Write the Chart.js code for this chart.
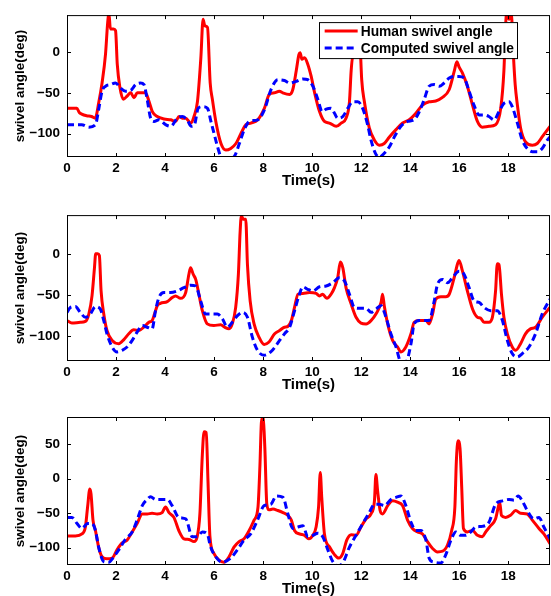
<!DOCTYPE html>
<html>
<head>
<meta charset="utf-8">
<script src="https://cdn.jsdelivr.net/npm/chart.js@4.4.1/dist/chart.umd.min.js"></script>
<style>
  html, body { margin: 0; padding: 0; background: #fff; overflow: hidden; }
  #wrap { position: relative; width: 551px; height: 596px; }
  canvas { position: absolute; left: 0; }
</style>
</head>
<body>
<div id="wrap">
  <canvas id="c1" width="551" height="200" style="top:0px"></canvas>
  <canvas id="c2" width="551" height="200" style="top:200px"></canvas>
  <canvas id="c3" width="551" height="204" style="top:396px"></canvas>
</div>
<script>
// series labels and tick values
const seriesNames = ["Human swivel angle", "Computed swivel angle"];
const xTicks = [0, 2, 4, 6, 8, 10, 12, 14, 16, 18];
const yTicksTop = [-100, -50, 0];
const yTicksBottom = [-100, -50, 0, 50];

// [time (s), swivel angle (deg)]
const human1 = [[0,-69],[0.4,-69],[0.5,-74],[0.6,-76],[0.8,-78],[1.0,-79],[1.15,-81],[1.3,-61],[1.43,-38],[1.57,-3],[1.66,36],[1.71,47],[1.77,28],[1.9,28],[1.98,26],[2.05,-15],[2.15,-42],[2.3,-58],[2.45,-54],[2.6,-50],[2.73,-56],[2.87,-50],[3.0,-50],[3.2,-50],[3.35,-61],[3.48,-73],[3.68,-79],[3.96,-82],[4.23,-83],[4.43,-85],[4.57,-79],[4.7,-81],[4.84,-81],[5.05,-87],[5.18,-79],[5.32,-61],[5.46,-7],[5.55,40],[5.62,32],[5.73,30],[5.84,-38],[5.93,-58],[6.07,-85],[6.28,-112],[6.48,-120],[6.68,-118],[6.89,-112],[7.09,-100],[7.3,-89],[7.5,-87],[7.78,-83],[8.05,-69],[8.25,-52],[8.46,-50],[8.66,-48],[8.8,-50],[9.08,-52],[9.21,-46],[9.35,-23],[9.46,-3],[9.51,-1],[9.58,-9],[9.69,-7],[9.82,-15],[9.96,-30],[10.1,-50],[10.3,-73],[10.5,-85],[10.7,-87],[10.98,-91],[11.18,-87],[11.38,-81],[11.52,-61],[11.59,-23],[11.65,-7],[11.76,-5],[11.86,24],[11.92,32],[11.97,0],[12.02,-34],[12.13,-61],[12.33,-93],[12.54,-108],[12.74,-114],[12.94,-112],[13.15,-104],[13.42,-95],[13.69,-87],[13.96,-83],[14.23,-75],[14.5,-65],[14.77,-61],[15.04,-60],[15.3,-56],[15.59,-46],[15.8,-23],[15.9,-12],[16.0,-19],[16.13,-26],[16.33,-42],[16.54,-65],[16.74,-85],[16.94,-92],[17.21,-91],[17.48,-89],[17.69,-69],[17.82,-23],[17.89,32],[17.93,47],[18.03,40],[18.12,47],[18.2,0],[18.28,-40],[18.37,-65],[18.5,-93],[18.7,-110],[18.98,-114],[19.18,-112],[19.38,-104],[19.7,-91]];
const computed1 = [[0,-89],[0.6,-89],[0.89,-92],[1.16,-89],[1.3,-69],[1.43,-48],[1.57,-42],[1.77,-40],[1.98,-38],[2.18,-44],[2.39,-48],[2.6,-47],[2.8,-40],[3.0,-38],[3.14,-40],[3.27,-58],[3.41,-81],[3.55,-85],[3.75,-83],[4.02,-89],[4.23,-91],[4.5,-81],[4.7,-79],[4.9,-83],[5.07,-91],[5.2,-89],[5.35,-69],[5.53,-67],[5.73,-69],[5.87,-85],[6.0,-100],[6.14,-116],[6.28,-128],[6.55,-131],[6.82,-128],[7.03,-112],[7.23,-95],[7.44,-85],[7.78,-83],[8.05,-71],[8.32,-46],[8.6,-34],[8.87,-35],[9.08,-38],[9.35,-36],[9.62,-33],[9.82,-34],[10.03,-42],[10.23,-58],[10.41,-73],[10.57,-70],[10.77,-69],[10.91,-75],[11.04,-81],[11.25,-79],[11.45,-69],[11.65,-61],[11.86,-61],[12.06,-69],[12.26,-89],[12.4,-108],[12.58,-124],[12.74,-129],[12.94,-124],[13.15,-116],[13.35,-104],[13.62,-91],[13.89,-85],[14.16,-83],[14.37,-73],[14.57,-58],[14.77,-42],[14.98,-40],[15.18,-42],[15.38,-38],[15.59,-32],[15.79,-30],[15.99,-30],[16.2,-32],[16.4,-48],[16.6,-65],[16.81,-77],[17.01,-77],[17.21,-79],[17.42,-83],[17.62,-73],[17.82,-63],[18.03,-61],[18.16,-67],[18.37,-87],[18.57,-108],[18.77,-118],[18.98,-122],[19.18,-122],[19.38,-118],[19.59,-108],[19.7,-104]];

const human2 = [[0,-81],[0.2,-84],[0.54,-83],[0.75,-82],[0.89,-73],[1.02,-51],[1.12,-17],[1.17,0],[1.25,0],[1.32,-2],[1.39,-45],[1.5,-73],[1.63,-93],[1.84,-105],[2.11,-109],[2.32,-104],[2.52,-97],[2.72,-92],[2.93,-93],[3.13,-89],[3.34,-83],[3.47,-81],[3.57,-73],[3.68,-63],[3.81,-60],[4.09,-58],[4.29,-53],[4.43,-51],[4.63,-54],[4.84,-47],[4.97,-25],[5.04,-17],[5.15,-25],[5.25,-31],[5.38,-49],[5.52,-69],[5.72,-85],[5.99,-87],[6.27,-86],[6.43,-89],[6.61,-91],[6.74,-85],[6.88,-65],[6.99,-25],[7.06,26],[7.11,46],[7.19,42],[7.29,42],[7.36,-13],[7.47,-57],[7.63,-85],[7.83,-101],[8.04,-110],[8.24,-107],[8.47,-97],[8.67,-93],[8.87,-89],[9.01,-88],[9.15,-81],[9.28,-65],[9.42,-49],[9.62,-48],[9.89,-47],[10.16,-48],[10.3,-51],[10.43,-49],[10.6,-54],[10.77,-49],[10.91,-41],[11.04,-29],[11.15,-10],[11.25,-17],[11.38,-41],[11.59,-61],[11.79,-77],[11.99,-84],[12.2,-85],[12.4,-81],[12.6,-73],[12.81,-59],[12.87,-49],[12.94,-63],[13.08,-85],[13.28,-105],[13.48,-113],[13.62,-119],[13.82,-113],[14.03,-97],[14.16,-83],[14.37,-81],[14.64,-81],[14.77,-85],[14.91,-73],[15.04,-55],[15.25,-52],[15.45,-52],[15.59,-49],[15.79,-29],[15.93,-12],[15.99,-8],[16.13,-21],[16.33,-45],[16.54,-67],[16.74,-77],[16.87,-78],[17.01,-83],[17.21,-83],[17.35,-77],[17.48,-45],[17.55,-12],[17.62,-13],[17.72,-49],[17.82,-77],[17.96,-97],[18.16,-113],[18.3,-117],[18.5,-109],[18.7,-97],[18.9,-91],[19.11,-89],[19.38,-77],[19.7,-65]];
const computed2 = [[0,-71],[0.14,-65],[0.34,-64],[0.54,-71],[0.75,-77],[0.95,-73],[1.16,-64],[1.36,-67],[1.5,-81],[1.63,-97],[1.84,-113],[2.04,-119],[2.25,-117],[2.45,-113],[2.66,-105],[2.86,-95],[3.07,-87],[3.27,-89],[3.47,-91],[3.61,-69],[3.75,-53],[3.95,-47],[4.22,-47],[4.5,-45],[4.77,-41],[5.04,-38],[5.25,-39],[5.45,-57],[5.65,-73],[5.86,-73],[6.13,-73],[6.34,-79],[6.54,-89],[6.74,-83],[6.95,-75],[7.15,-71],[7.36,-77],[7.56,-101],[7.77,-117],[8.04,-123],[8.31,-119],[8.58,-109],[8.67,-105],[8.87,-97],[9.08,-89],[9.28,-69],[9.48,-49],[9.62,-40],[9.82,-43],[10.03,-45],[10.3,-40],[10.57,-39],[10.84,-35],[11.11,-29],[11.32,-33],[11.52,-49],[11.72,-65],[11.93,-66],[12.2,-66],[12.4,-71],[12.6,-67],[12.81,-63],[13.01,-77],[13.21,-97],[13.42,-113],[13.62,-131],[13.82,-131],[14.03,-109],[14.16,-85],[14.37,-81],[14.57,-81],[14.77,-81],[14.98,-57],[15.11,-37],[15.32,-31],[15.52,-35],[15.72,-29],[15.99,-21],[16.2,-25],[16.4,-41],[16.6,-57],[16.81,-59],[17.01,-65],[17.28,-69],[17.55,-69],[17.76,-81],[17.96,-105],[18.16,-121],[18.37,-125],[18.57,-121],[18.84,-113],[19.11,-97],[19.38,-73],[19.7,-55]];

const human3 = [[0,-83],[0.34,-83],[0.61,-80],[0.75,-70],[0.84,-41],[0.93,-15],[0.98,-22],[1.06,-60],[1.16,-75],[1.29,-99],[1.43,-113],[1.63,-116],[1.84,-115],[2.04,-103],[2.25,-93],[2.45,-89],[2.66,-77],[2.86,-65],[3.07,-51],[3.27,-51],[3.47,-50],[3.68,-51],[3.88,-49],[4.02,-41],[4.16,-49],[4.36,-56],[4.56,-75],[4.77,-87],[4.97,-88],[5.18,-91],[5.31,-84],[5.42,-51],[5.52,35],[5.59,68],[5.68,67],[5.75,-3],[5.83,-84],[5.99,-108],[6.2,-118],[6.4,-121],[6.61,-113],[6.81,-99],[7.02,-91],[7.22,-87],[7.43,-75],[7.63,-60],[7.79,-41],[7.87,20],[7.93,82],[8.0,90],[8.07,44],[8.15,-37],[8.24,-45],[8.4,-44],[8.6,-46],[8.81,-49],[9.01,-53],[9.15,-60],[9.28,-75],[9.48,-80],[9.69,-82],[9.86,-87],[10.03,-82],[10.16,-70],[10.26,-41],[10.33,9],[10.39,-27],[10.5,-80],[10.71,-99],[10.91,-110],[11.08,-115],[11.25,-108],[11.41,-89],[11.59,-81],[11.79,-82],[11.99,-70],[12.2,-58],[12.4,-51],[12.54,-32],[12.6,6],[12.67,-18],[12.77,-46],[12.87,-51],[13.08,-39],[13.28,-32],[13.48,-34],[13.69,-39],[13.89,-60],[14.09,-72],[14.3,-77],[14.5,-80],[14.7,-91],[14.91,-101],[15.11,-106],[15.32,-105],[15.52,-96],[15.69,-75],[15.82,-41],[15.88,25],[15.95,55],[16.03,44],[16.1,-13],[16.17,-72],[16.33,-77],[16.54,-75],[16.74,-82],[16.94,-84],[17.08,-77],[17.28,-68],[17.48,-58],[17.59,-41],[17.65,-34],[17.72,-53],[17.89,-56],[18.09,-53],[18.3,-46],[18.5,-50],[18.77,-51],[18.98,-60],[19.25,-72],[19.45,-80],[19.7,-94]];
const computed3 = [[0,-56],[0.2,-56],[0.41,-65],[0.61,-72],[0.84,-65],[1.02,-65],[1.16,-75],[1.29,-99],[1.5,-120],[1.7,-121],[1.91,-113],[2.11,-103],[2.38,-88],[2.66,-77],[2.86,-60],[3.07,-39],[3.27,-30],[3.41,-26],[3.61,-30],[3.81,-30],[4.09,-30],[4.29,-39],[4.56,-56],[4.84,-58],[5.11,-84],[5.31,-84],[5.52,-77],[5.72,-80],[5.86,-99],[6.06,-113],[6.34,-121],[6.68,-115],[6.95,-103],[7.22,-89],[7.49,-80],[7.77,-60],[8.04,-39],[8.31,-37],[8.54,-25],[8.81,-27],[9.01,-51],[9.21,-72],[9.42,-70],[9.62,-68],[9.82,-84],[10.03,-82],[10.23,-79],[10.43,-84],[10.64,-103],[10.84,-120],[11.04,-126],[11.25,-122],[11.52,-99],[11.79,-82],[12.06,-65],[12.33,-49],[12.54,-37],[12.74,-37],[12.94,-39],[13.21,-30],[13.42,-27],[13.62,-25],[13.82,-39],[14.03,-63],[14.23,-75],[14.43,-75],[14.64,-89],[14.77,-115],[14.98,-121],[15.25,-122],[15.45,-110],[15.66,-89],[15.86,-77],[16.06,-82],[16.26,-82],[16.47,-77],[16.67,-70],[16.94,-69],[17.21,-63],[17.48,-37],[17.76,-32],[18.03,-30],[18.23,-31],[18.4,-25],[18.57,-32],[18.77,-46],[19.04,-58],[19.25,-56],[19.45,-70],[19.7,-87]];

const FONT = "'Liberation Sans', Arial, Helvetica, sans-serif";

// MATLAB-style box, inward ticks and an inset legend
const framePlugin = {
    id: "frame",
    afterDatasetsDraw(chart, args, opts) {
        const ctx = chart.ctx;
        const a = chart.chartArea;
        const xs = chart.scales.x, ys = chart.scales.y;
        ctx.save();
        ctx.strokeStyle = "#000";
        ctx.lineWidth = 1;
        ctx.strokeRect(a.left + 0.5, a.top + 0.5, a.right - a.left - 1, a.bottom - a.top - 1);
        ctx.beginPath();
        xs.ticks.forEach(t => {
            const px = Math.round(xs.getPixelForValue(t.value)) + 0.5;
            ctx.moveTo(px, a.top); ctx.lineTo(px, a.top + 4);
            ctx.moveTo(px, a.bottom); ctx.lineTo(px, a.bottom - 4);
        });
        ys.ticks.forEach(t => {
            const py = Math.round(ys.getPixelForValue(t.value)) + 0.5;
            ctx.moveTo(a.left, py); ctx.lineTo(a.left + 4, py);
            ctx.moveTo(a.right, py); ctx.lineTo(a.right - 4, py);
        });
        ctx.stroke();

        if (opts.legend) {
            ctx.font = "bold 13.8px " + FONT;
            const items = chart.data.datasets;
            const textW = Math.max(...items.map(d => ctx.measureText(d.label).width));
            const w = 42 + textW + 3, h = 36;
            const left = a.right - 33 - w, top = a.top + 7;
            ctx.fillStyle = "#fff";
            ctx.fillRect(left, top, w, h);
            ctx.strokeStyle = "#000";
            ctx.lineWidth = 1;
            ctx.strokeRect(Math.round(left) + 0.5, top + 0.5, Math.round(w), h);
            items.forEach((d, i) => {
                const yy = top + 9 + i * 17;
                ctx.beginPath();
                ctx.strokeStyle = d.borderColor;
                ctx.lineWidth = d.borderWidth;
                ctx.setLineDash(d.borderDash || []);
                ctx.moveTo(left + 6, yy);
                ctx.lineTo(left + 39, yy);
                ctx.stroke();
                ctx.setLineDash([]);
                ctx.fillStyle = "#000";
                ctx.textBaseline = "middle";
                ctx.textAlign = "left";
                ctx.fillText(d.label, left + 42, yy + 1);
            });
        }
        ctx.restore();
    }
};

function toXY(pairs) {
    return pairs.map(p => ({ x: p[0], y: p[1] }));
}

function makeChart(id, human, computed, yMin, yMax, yTicks, pad, showLegend) {
    const ctx = document.getElementById(id).getContext("2d");
    return new Chart(ctx, {
        type: "line",
        data: {
            datasets: [{
                label: seriesNames[0],
                data: toXY(human),
                borderColor: "#ff0000",
                borderWidth: 3,
                pointRadius: 0,
                cubicInterpolationMode: "monotone",
                order: 2
            }, {
                label: seriesNames[1],
                data: toXY(computed),
                borderColor: "#0000ff",
                borderWidth: 3,
                borderDash: [7, 4],
                pointRadius: 0,
                cubicInterpolationMode: "monotone",
                order: 1
            }]
        },
        options: {
            responsive: false,
            animation: false,
            layout: { padding: { top: pad[0], bottom: pad[1], left: 0, right: 1 } },
            plugins: {
                legend: { display: false },
                tooltip: { enabled: false },
                frame: { legend: showLegend }
            },
            scales: {
                x: {
                    type: "linear",
                    min: 0,
                    max: 19.7,
                    grid: { display: false, drawTicks: false },
                    border: { display: false },
                    afterBuildTicks: s => { s.ticks = xTicks.map(v => ({ value: v })); },
                    afterFit: s => { s.height = 33; },
                    ticks: {
                        color: "#000",
                        padding: 3,
                        maxRotation: 0,
                        autoSkip: false,
                        font: { family: FONT, size: 13.5, weight: "bold" }
                    },
                    title: {
                        display: true,
                        text: "Time(s)",
                        color: "#000",
                        padding: { top: 0, bottom: 0 },
                        font: { family: FONT, size: 15, weight: "bold" }
                    }
                },
                y: {
                    min: yMin,
                    max: yMax,
                    grid: { display: false, drawTicks: false },
                    border: { display: false },
                    afterBuildTicks: s => { s.ticks = yTicks.map(v => ({ value: v })); },
                    afterFit: s => { s.width = 67; },
                    ticks: {
                        color: "#000",
                        padding: 7,
                        font: { family: FONT, size: 13.5, weight: "bold" },
                        callback: v => String(v).replace("-", "\u2212")
                    },
                    title: {
                        display: true,
                        text: "swivel angle(deg)",
                        color: "#000",
                        padding: { top: 12, bottom: 0 },
                        font: { family: FONT, size: 13.5, weight: "bold" }
                    }
                }
            }
        },
        plugins: [framePlugin]
    });
}

document.addEventListener("DOMContentLoaded", function () {
    makeChart("c1", human1, computed1, -128.5, 45, yTicksTop, [9, 10], true);
    makeChart("c2", human2, computed2, -130, 47, yTicksTop, [13, 6], false);
    makeChart("c3", human3, computed3, -125, 89.5, yTicksBottom, [21, 2], false);
});
</script>
</body>
</html>
